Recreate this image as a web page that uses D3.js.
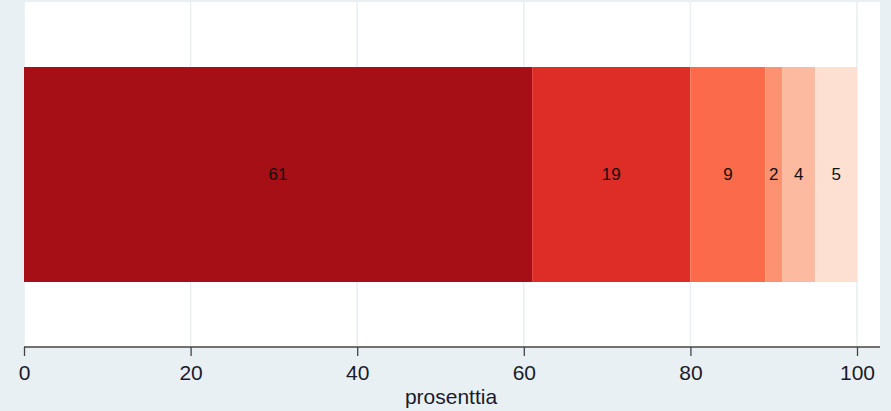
<!DOCTYPE html>
<html>
<head>
<meta charset="utf-8">
<script src="https://cdn.jsdelivr.net/npm/d3@7/dist/d3.min.js"></script>
<style>
  html, body { margin: 0; padding: 0; background: #e8f0f3; }
  svg { display: block; }
</style>
</head>
<body>
<svg id="chart" width="891" height="411"></svg>
<script>
// Share of responses (percent), one stacked bar
const categories = ["a", "b", "c", "d", "e", "f"];
const values = [61, 19, 9, 2, 4, 5];
const colors = ["#a50f15", "#de2d26", "#fb6a4a", "#fc9272", "#fcbba1", "#fee0d2"];
const tickValues = [0, 20, 40, 60, 80, 100];
const axisTitle = "prosenttia";

const W = 891, H = 411;
const plot = { left: 24, right: 880, top: 2, bottom: 347 };
const font = "Liberation Sans, Arial, sans-serif";
const svg = d3.select("#chart");

svg.append("rect").attr("width", W).attr("height", H).attr("fill", "#e8f0f3");
svg.append("rect")
  .attr("x", plot.left).attr("y", plot.top)
  .attr("width", plot.right - plot.left).attr("height", plot.bottom - plot.top)
  .attr("fill", "#ffffff");

const x = d3.scaleLinear().domain([0, 100]).range([24, 857]);

// vertical grid lines
svg.append("g").selectAll("line").data(tickValues).join("line")
  .attr("x1", d => x(d)).attr("x2", d => x(d))
  .attr("y1", plot.top).attr("y2", plot.bottom)
  .attr("stroke", "#e8eef2").attr("stroke-width", 1.5);

// stacked segments
let acc = 0;
const segs = values.map((v, i) => {
  const s = { key: categories[i], x0: acc, x1: acc + v, v, color: colors[i] };
  acc += v;
  return s;
});

const barY = 67, barH = 282 - 67;
svg.append("g").selectAll("rect").data(segs).join("rect")
  .attr("x", d => x(d.x0)).attr("width", d => x(d.x1) - x(d.x0))
  .attr("y", barY).attr("height", barH)
  .attr("fill", d => d.color);

svg.append("g").selectAll("text").data(segs).join("text")
  .attr("x", d => x((d.x0 + d.x1) / 2))
  .attr("y", barY + barH / 2)
  .attr("dy", "0.35em")
  .attr("text-anchor", "middle")
  .attr("font-family", font)
  .attr("font-size", 17)
  .attr("fill", "#111")
  .text(d => d.v);

// bottom axis
const axis = d3.axisBottom(x).tickValues(tickValues).tickSize(9).tickPadding(9).tickSizeOuter(0);
const gx = svg.append("g").attr("transform", `translate(0,${plot.bottom})`).call(axis);
gx.select(".domain").remove();
gx.append("line").attr("x1", plot.left).attr("x2", plot.right).attr("y1", 0).attr("y2", 0)
  .attr("stroke", "#444").attr("stroke-width", 1.3);
gx.selectAll(".tick line").attr("stroke", "#444").attr("stroke-width", 1.3);
gx.selectAll(".tick text")
  .attr("font-family", font)
  .attr("font-size", 21)
  .attr("fill", "#1a1a2a");

svg.append("text")
  .attr("x", 451).attr("y", 404)
  .attr("text-anchor", "middle")
  .attr("font-family", font)
  .attr("font-size", 21)
  .attr("fill", "#1a1a2a")
  .text(axisTitle);
</script>
</body>
</html>
